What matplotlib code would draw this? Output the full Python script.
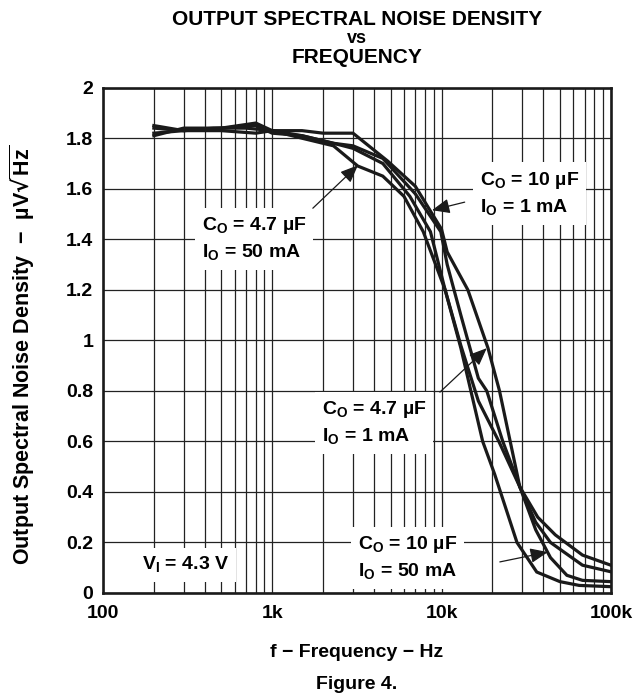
import numpy as np
import matplotlib
matplotlib.use("Agg")
import matplotlib.pyplot as plt
from matplotlib.ticker import FixedLocator, LogLocator, NullFormatter

plt.rcParams["font.family"] = ["Liberation Sans", "DejaVu Sans"]
plt.rcParams["font.weight"] = "bold"

# curve data (frequency in Hz, noise in uV/rtHz)
f_10u_1m = [200, 300, 450, 700, 1000, 1500, 2000, 3000, 4800, 7000, 10000, 10800,
            14300, 18800, 22000, 29000, 37000, 47000, 68000, 100000]
v_10u_1m = [1.84, 1.83, 1.84, 1.84, 1.83, 1.83, 1.82, 1.82, 1.71, 1.61, 1.44, 1.35,
            1.20, 0.97, 0.80, 0.42, 0.30, 0.23, 0.15, 0.11]

f_47u_50m = [200, 300, 500, 800, 1000, 1500, 2300, 3200, 4500, 6000, 7800, 10500,
             13000, 17500, 20600, 27900, 36500, 50000, 65000, 100000]
v_47u_50m = [1.82, 1.83, 1.83, 1.82, 1.83, 1.80, 1.77, 1.69, 1.65, 1.57, 1.43, 1.20,
             0.97, 0.60, 0.47, 0.20, 0.083, 0.045, 0.03, 0.025]

f_47u_1m = [200, 300, 500, 800, 1000, 1500, 2300, 3000, 4500, 6500, 8600, 10500,
            13000, 16500, 21800, 29000, 36000, 44000, 55000, 68000, 100000]
v_47u_1m = [1.85, 1.83, 1.84, 1.85, 1.82, 1.81, 1.78, 1.76, 1.70, 1.57, 1.43, 1.20,
            0.98, 0.76, 0.60, 0.42, 0.25, 0.14, 0.07, 0.05, 0.045]

f_10u_50m = [200, 300, 500, 800, 1000, 1500, 2300, 3000, 4500, 7000, 9900, 10800,
             13000, 16500, 18500, 23000, 29000, 36000, 44000, 68000, 100000]
v_10u_50m = [1.81, 1.84, 1.84, 1.86, 1.83, 1.81, 1.78, 1.77, 1.72, 1.58, 1.43, 1.30,
             1.10, 0.85, 0.80, 0.60, 0.42, 0.28, 0.20, 0.11, 0.084]

x_ticks = [100, 1000, 10000, 100000]
x_labels = ["100", "1k", "10k", "100k"]
y_ticks = [0, 0.2, 0.4, 0.6, 0.8, 1, 1.2, 1.4, 1.6, 1.8, 2]
y_labels = ["0", "0.2", "0.4", "0.6", "0.8", "1", "1.2", "1.4", "1.6", "1.8", "2"]

fig = plt.figure(figsize=(6.43, 6.96), dpi=100)
ax = fig.add_axes([0.160, 0.148, 0.790, 0.726])

ax.set_xscale("log")
ax.set_xlim(100, 100000)
ax.set_ylim(0, 2)

# grid
ax.xaxis.set_major_locator(FixedLocator(x_ticks))
ax.xaxis.set_minor_locator(LogLocator(base=10, subs=np.arange(2, 10)))
ax.xaxis.set_minor_formatter(NullFormatter())
ax.set_xticklabels(x_labels)
ax.set_yticks(y_ticks)
ax.set_yticklabels(y_labels)
ax.grid(True, which="both", axis="x", color="#222222", lw=0.9)
ax.grid(True, which="major", axis="y", color="#222222", lw=0.9)
ax.tick_params(which="both", length=0, labelsize=14)
ax.tick_params(axis="x", pad=9)
ax.tick_params(axis="y", pad=7)
for s in ax.spines.values():
    s.set_linewidth(1.9)
    s.set_color("#1a1a1a")
ax.set_axisbelow(True)

# curves
for f, v in [(f_10u_1m, v_10u_1m), (f_47u_50m, v_47u_50m),
             (f_47u_1m, v_47u_1m), (f_10u_50m, v_10u_50m)]:
    ax.plot(f, v, color="#1a1a1a", lw=2.3, solid_joinstyle="miter", zorder=3)

# annotations
box = dict(boxstyle="square,pad=0.35", fc="white", ec="none")
arr = dict(arrowstyle="-|>,head_length=0.6,head_width=0.25", color="#1a1a1a",
           lw=0.9, mutation_scale=18, shrinkA=0, shrinkB=0)

notes = [
    ("C$_\\mathregular{O}$ = 4.7 µF\nI$_\\mathregular{O}$ = 50 mA", (385, 1.40), (1738, 1.523), (3210, 1.693)),
    ("C$_\\mathregular{O}$ = 10 µF\nI$_\\mathregular{O}$ = 1 mA", (16900, 1.58), (13700, 1.547), (8780, 1.515)),
    ("C$_\\mathregular{O}$ = 4.7 µF\nI$_\\mathregular{O}$ = 1 mA", (1967, 0.671), (9780, 0.795), (18500, 0.969)),
    ("C$_\\mathregular{O}$ = 10 µF\nI$_\\mathregular{O}$ = 50 mA", (3210, 0.137), (22100, 0.123), (42500, 0.162)),
]
for txt, tpos, tail, tip in notes:
    ax.annotate("", xy=tip, xytext=tail, arrowprops=arr, zorder=5)
    ax.text(tpos[0], tpos[1], txt, ha="left", va="center", fontsize=14,
            linespacing=1.45, bbox=box, zorder=4)

ax.text(170, 0.111, "V$_\\mathregular{I}$ = 4.3 V", ha="left", va="center",
        fontsize=14, bbox=box, zorder=4)

# titles and labels
fig.text(0.555, 0.972, "OUTPUT SPECTRAL NOISE DENSITY", ha="center", va="center", fontsize=15)
fig.text(0.555, 0.945, "vs", ha="center", va="center", fontsize=13)
fig.text(0.555, 0.918, "FREQUENCY", ha="center", va="center", fontsize=15)
fig.text(0.555, 0.062, "f − Frequency − Hz", ha="center", va="center", fontsize=14)
fig.text(0.555, 0.016, "Figure 4.", ha="center", va="center", fontsize=14)
fig.text(0.034, 0.49, "Output Spectral Noise Density  −  µV$\\sqrt{\\mathregular{Hz}}$",
         rotation=90, ha="center", va="center", fontsize=15.5)

fig.savefig("out.png", dpi=100)
